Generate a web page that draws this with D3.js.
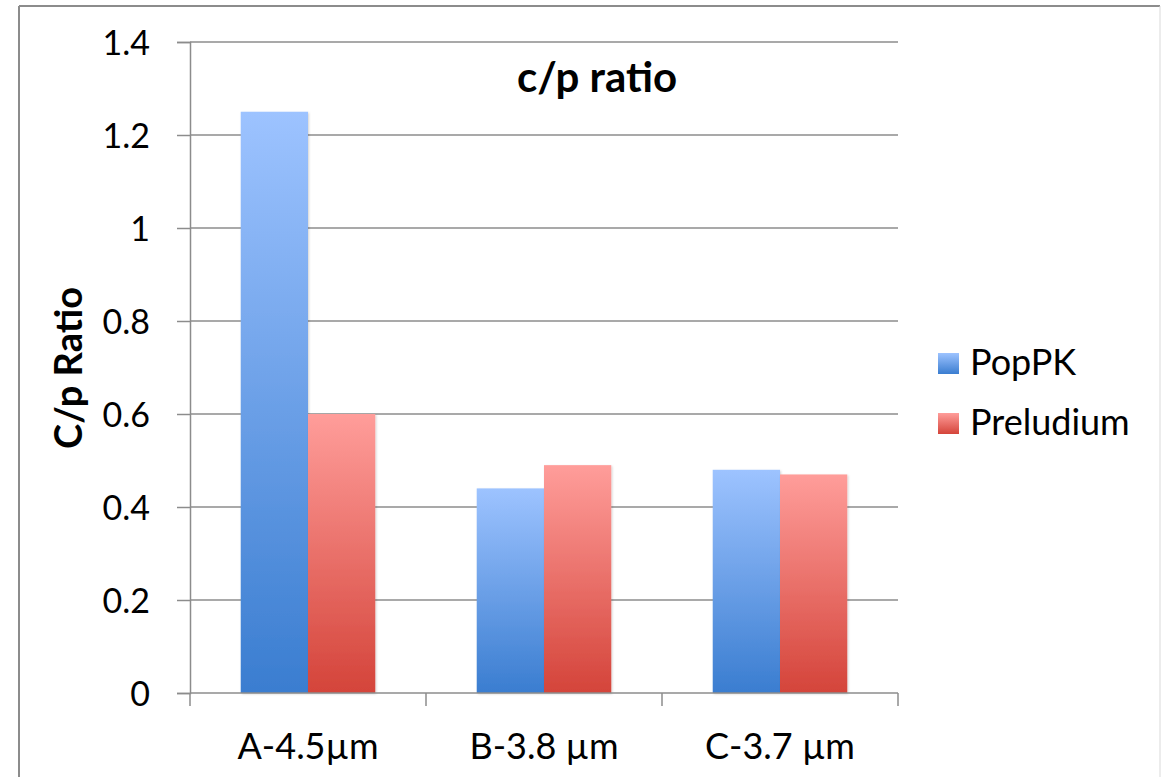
<!DOCTYPE html>
<html>
<head>
<meta charset="utf-8">
<script src="https://cdn.jsdelivr.net/npm/d3@7"></script>
<style>
  body { margin: 0; background: #fff; }
  text { font-family: Lato, "Open Sans", sans-serif; fill: #000; }
</style>
</head>
<body>
<div id="chart"></div>
<script>
// data
const categories = ["A-4.5\u00b5m", "B-3.8 \u00b5m", "C-3.7 \u00b5m"];
const seriesNames = ["PopPK", "Preludium"];
const popPK = [1.25, 0.44, 0.48];
const preludium = [0.6, 0.49, 0.47];
const yTicks = [0, 0.2, 0.4, 0.6, 0.8, 1, 1.2, 1.4];

const W = 1169, H = 777;
const margin = {top: 42, right: 271, bottom: 84, left: 190};
const width = W - margin.left - margin.right,
      height = H - margin.top - margin.bottom;

const svg = d3.select("#chart").append("svg")
  .attr("width", W).attr("height", H);

const defs = svg.append("defs");
const grads = [
  {id: "gBlue", top: "#9dc3ff", bottom: "#3a7dd0"},
  {id: "gRed", top: "#ff9d9a", bottom: "#d4443a"}
];
grads.forEach(function(g){
  const lg = defs.append("linearGradient").attr("id", g.id)
    .attr("x1", 0).attr("y1", 0).attr("x2", 0).attr("y2", 1);
  lg.append("stop").attr("offset", "0%").attr("stop-color", g.top);
  lg.append("stop").attr("offset", "100%").attr("stop-color", g.bottom);
});
const f = defs.append("filter").attr("id", "shadow")
  .attr("x", "-10%").attr("y", "-10%").attr("width", "130%").attr("height", "130%");
f.append("feDropShadow").attr("dx", 1).attr("dy", 1).attr("stdDeviation", 1.2)
  .attr("flood-color", "#000").attr("flood-opacity", 0.18);

// outer frame
svg.append("line").attr("x1", 19).attr("x2", 19).attr("y1", 6).attr("y2", H)
  .attr("stroke", "#8c8c8c").attr("stroke-width", 2);
svg.append("line").attr("x1", 19).attr("x2", 1160).attr("y1", 6).attr("y2", 6)
  .attr("stroke", "#8c8c8c").attr("stroke-width", 2);
svg.append("line").attr("x1", 1160).attr("x2", 1160).attr("y1", 6).attr("y2", H)
  .attr("stroke", "#d9d9d9").attr("stroke-width", 1);

const g = svg.append("g")
  .attr("transform", "translate(" + margin.left + "," + margin.top + ")");

const x = d3.scaleBand().domain(categories).range([0, width]).paddingInner(0.43).paddingOuter(0.215);
const x1 = d3.scaleBand().domain(seriesNames).range([0, x.bandwidth()]);
const y = d3.scaleLinear().domain([0, 1.4]).range([height, 0]);

// gridlines
g.selectAll(".grid").data(yTicks.filter(function(d){ return d > 0; }))
  .enter().append("line")
  .attr("x1", 0).attr("x2", width)
  .attr("y1", function(d){ return y(d); }).attr("y2", function(d){ return y(d); })
  .attr("stroke", "#8c8c8c").attr("stroke-width", 1.5);

// y axis
const yAxis = g.append("g")
  .call(d3.axisLeft(y).tickValues(yTicks).tickSize(13).tickPadding(27)
    .tickFormat(function(d){ return String(d); }));
yAxis.select(".domain").attr("stroke", "#8c8c8c").attr("stroke-width", 1.5);
yAxis.selectAll(".tick line").attr("stroke", "#8c8c8c").attr("stroke-width", 1.5);
yAxis.selectAll("text").attr("font-size", 34).attr("font-family", "Lato, sans-serif").attr("dy", "0.36em");

// bars
const data = categories.map(function(c, i){
  return {cat: c, vals: [popPK[i], preludium[i]]};
});
const grp = g.selectAll(".grp").data(data).enter().append("g")
  .attr("transform", function(d){ return "translate(" + x(d.cat) + ",0)"; });
grp.selectAll("rect").data(function(d){
    return d.vals.map(function(v, j){ return {s: seriesNames[j], v: v, j: j}; });
  })
  .enter().append("rect")
  .attr("x", function(d){ return x1(d.s); })
  .attr("width", x1.bandwidth())
  .attr("y", function(d){ return y(d.v); })
  .attr("height", function(d){ return height - y(d.v); })
  .attr("fill", function(d){ return "url(#" + grads[d.j].id + ")"; })
  .attr("filter", "url(#shadow)");

// x axis
const xTickPos = [0].concat(categories.map(function(c){ return x(c) + x.bandwidth() / 2 + x.step() / 2; }));
const xAxis = g.append("g").attr("transform", "translate(0," + height + ")");
xAxis.append("line").attr("x1", 0).attr("x2", width)
  .attr("stroke", "#8c8c8c").attr("stroke-width", 1.5);
xAxis.selectAll(".xt").data(xTickPos).enter().append("line")
  .attr("x1", function(d){ return d; }).attr("x2", function(d){ return d; })
  .attr("y1", 0).attr("y2", 13)
  .attr("stroke", "#8c8c8c").attr("stroke-width", 1.5);
xAxis.selectAll(".xl").data(categories).enter().append("text")
  .attr("x", function(d){ return x(d) + x.bandwidth() / 2; })
  .attr("y", 66)
  .attr("text-anchor", "middle")
  .attr("font-size", 36)
  .text(function(d){ return d; });

// title
svg.append("text").attr("x", 597).attr("y", 92)
  .attr("text-anchor", "middle").attr("font-size", 42).attr("font-weight", "bold")
  .text("c/p ratio");

// y axis title
svg.append("text")
  .attr("transform", "translate(82,368) rotate(-90)")
  .attr("text-anchor", "middle").attr("font-size", 38).attr("font-weight", "bold")
  .text("C/p Ratio");

// legend
const legend = svg.append("g").attr("transform", "translate(938,353)");
const li = legend.selectAll(".li").data(seriesNames).enter().append("g")
  .attr("transform", function(d, i){ return "translate(0," + i * 60 + ")"; });
li.append("rect").attr("width", 21).attr("height", 21)
  .attr("fill", function(d, i){ return "url(#" + grads[i].id + ")"; });
li.append("text").attr("x", 32).attr("y", 22).attr("font-size", 36)
  .text(function(d){ return d; });
</script>
</body>
</html>
